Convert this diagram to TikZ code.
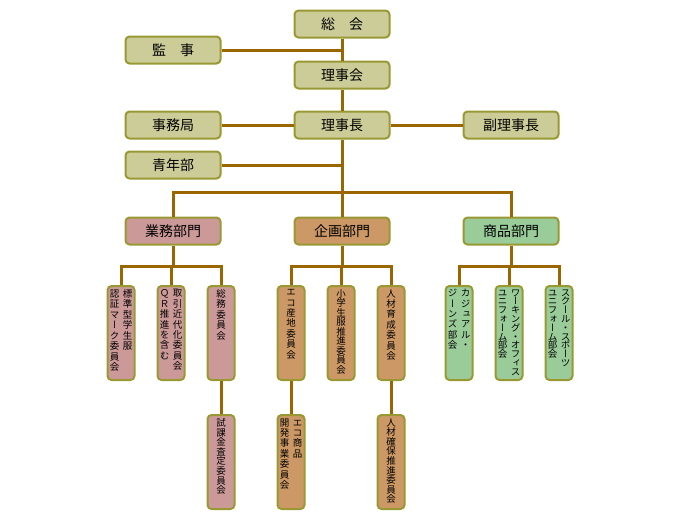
\documentclass[tikz,border=0pt]{standalone}
\usepackage{fontspec}
\newfontfamily\jpfont{Noto Sans CJK JP}
\newfontfamily\jpvert[RawFeature=+vert]{Noto Sans CJK JP}

\definecolor{boxline}{HTML}{999933}
\definecolor{linkline}{HTML}{996600}
\definecolor{topfill}{HTML}{CCCC99}
\definecolor{gyomufill}{HTML}{CC9999}
\definecolor{kikakufill}{HTML}{CC9966}
\definecolor{shohinfill}{HTML}{99CC99}

% vertical (tategaki) columns
\ExplSyntaxOn
\cs_new:Npn \tate_col:nn #1#2
  {
    \vbox_top:n
      {
        \skip_set:Nn \baselineskip {#1}
        \dim_set:Nn \lineskiplimit {-\maxdimen}
        \skip_set:Nn \lineskip {0pt}
        \tl_map_inline:nn {#2} { \hbox_to_wd:nn {1em} { \hss ##1 \hss } }
      }
  }
\NewDocumentCommand \tateA { m m }
  { \vbox_to_ht:nn {94pt} { \skip_vertical:n {3.5pt} \hbox:n { \tate_col:nn {#1} {#2} } \vss } }
\NewDocumentCommand \tateB { m m m }
  { \vbox_to_ht:nn {94pt} { \skip_vertical:n {3.5pt} \hbox:n { \tate_col:nn {#1} {#3} \kern 3.5pt \tate_col:nn {#1} {#2} } \vss } }
\ExplSyntaxOff

\begin{document}
\begin{tikzpicture}[x=1pt,y=-1pt,
    topbox/.style={draw=boxline, fill=topfill, line width=2pt, rounded corners=4pt,
        minimum width=95pt, minimum height=27pt, inner sep=0pt,
        font=\jpfont\fontsize{14}{16}\selectfont},
    bumon/.style={topbox, fill=#1},
    tatebox/.style={draw=boxline, fill=#1, line width=2pt, rounded corners=4pt,
        minimum width=27pt, minimum height=94pt, inner sep=0pt,
        font=\jpvert\fontsize{9.5}{10}\selectfont},
    conn/.style={draw=linkline, line width=3pt}]
    \useasboundingbox (0,0) rectangle (680,520);

    % board
    \node[topbox] (soukai) at (342,24) {総\hspace{1em}会};
    \node[topbox] (kanji) at (173,50) {監\hspace{1em}事};
    \node[topbox] (rijikai) at (342,75) {理事会};
    \node[topbox] (jimukyoku) at (173,125) {事務局};
    \node[topbox] (rijicho) at (342,125) {理事長};
    \node[topbox] (fukurijicho) at (511,125) {副理事長};
    \node[topbox] (seinenbu) at (173,165) {青年部};

    % departments
    \node[bumon=gyomufill] (gyomu) at (173,231) {業務部門};
    \node[bumon=kikakufill] (kikaku) at (342,231) {企画部門};
    \node[bumon=shohinfill] (shohin) at (511,231) {商品部門};

    % committees
    \node[tatebox=gyomufill] (g1) at (121,333) {\tateB{10.5pt}{標準型学生服}{認証マーク委員会}};
    \node[tatebox=gyomufill] (g2) at (171,333) {\tateB{10.4pt}{取引近代化委員会}{ＱＲ推進を含む}};
    \node[tatebox=gyomufill] (g3) at (221,333) {\tateA{10.5pt}{総務委員会}};
    \node[tatebox=gyomufill] (g4) at (221,462) {\tateA{9.6pt}{試課金査定委員会}};
    \node[tatebox=kikakufill] (k1) at (291,333) {\tateA{10.4pt}{エコ産地委員会}};
    \node[tatebox=kikakufill] (k2) at (341,333) {\tateA{9.5pt}{小学生服推進委員会}};
    \node[tatebox=kikakufill] (k3) at (391,333) {\tateA{10.4pt}{人材育成委員会}};
    \node[tatebox=kikakufill] (k4) at (291,462) {\tateB{10.4pt}{エコ商品}{開発事業委員会}};
    \node[tatebox=kikakufill] (k5) at (391,462) {\tateA{9.6pt}{人材確保推進委員会}};
    \node[tatebox=shohinfill] (s1) at (459,333) {\tateB{10.3pt}{カジュアル・}{ジーンズ部会}};
    \node[tatebox=shohinfill] (s2) at (509,333) {\tateB{8.8pt}{ワーキング・オフィス}{ユニフォーム部会}};
    \node[tatebox=shohinfill] (s3) at (559,333) {\tateB{8.8pt}{スクール・スポーツ}{ユニフォーム部会}};

    % trunk
    \draw[conn] (soukai) -- (rijikai);
    \draw[conn] (rijikai) -- (rijicho);
    \draw[conn] (rijicho) -- (kikaku);
    \draw[conn] (kanji) -- (kanji -| soukai);
    \draw[conn] (jimukyoku) -- (rijicho);
    \draw[conn] (rijicho) -- (fukurijicho);
    \draw[conn] (seinenbu) -- (seinenbu -| rijicho);
    \coordinate (bunki) at (342,192);
    \draw[conn] (gyomu) |- (bunki) -| (shohin);

    % department branches
    \foreach \dept/\pre in {gyomu/g, kikaku/k, shohin/s} {
        \coordinate (\pre0) at (\dept |- 0,266);
        \draw[conn] (\dept) -- (\pre0);
        \draw[conn] (\pre1) -- (\pre1 |- \pre0) -| (\pre3);
        \draw[conn] (\pre2) -- (\pre2 |- \pre0);
    }
    \draw[conn] (g3) -- (g4);
    \draw[conn] (k1) -- (k4);
    \draw[conn] (k3) -- (k5);
\end{tikzpicture}
\end{document}
